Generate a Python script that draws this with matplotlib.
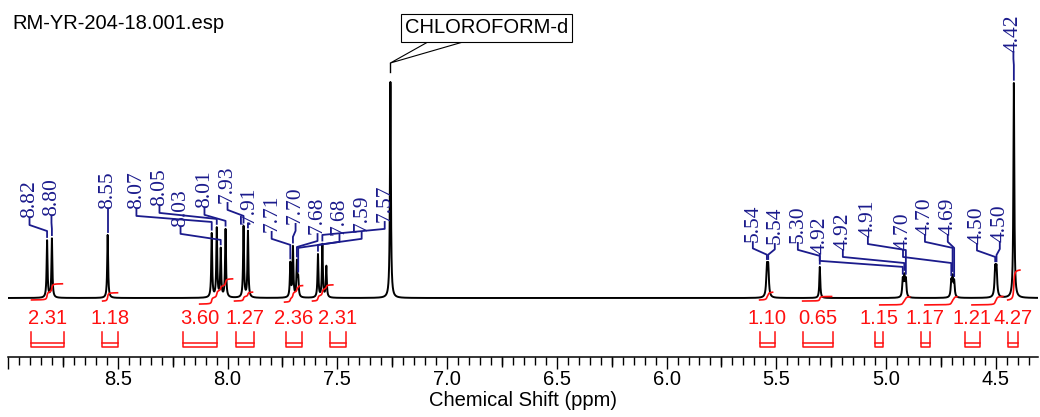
import numpy as np
import matplotlib.pyplot as plt
from matplotlib.ticker import MultipleLocator

plt.rcParams['font.family'] = 'Liberation Sans'

# peak list: shift (ppm), apex height (CHCl3 = 100), half width at half height (ppm)
peak_ppm = [8.822, 8.800, 8.546, 8.072, 8.049, 8.031, 8.009, 7.927, 7.907,
            7.714, 7.702, 7.684, 7.678, 7.588, 7.568, 7.550, 7.258,
            5.543, 5.537, 5.302, 4.924, 4.917, 4.910, 4.703, 4.697, 4.690,
            4.503, 4.497, 4.418]
peak_height = [26.4, 27.3, 29.2, 29.6, 31.9, 22.2, 31.5, 32.9, 30.6,
               15.7, 23.1, 16.0, 8.0, 19.9, 24.5, 14.4, 100.0,
               13.2, 13.2, 14.4, 8.0, 9.0, 8.0, 7.0, 8.5, 7.0,
               12.3, 12.3, 99.5]
peak_hwhm = [0.0025] * 17 + [0.0035, 0.0035, 0.0025] + [0.003] * 6 + [0.0035, 0.0035, 0.0025]
# peaks that carry a shift label (solvent and the 7.55 line are unlabelled)
labelled = [True] * 15 + [False, False] + [True] * 12

# label placement: x (ppm) and bottom of the rotated text (intensity units)
label_x = [8.902, 8.802, 8.546, 8.415, 8.310, 8.214, 8.105, 8.000, 7.900,
           7.799, 7.690, 7.590, 7.490, 7.389, 7.284,
           5.607, 5.507, 5.402, 5.302, 5.197, 5.083, 4.923, 4.823, 4.719,
           4.586, 4.482, 4.420]
label_bottom = [37.0, 38.0, 41.2, 41.2, 42.6, 32.9, 41.7, 44.0, 34.3,
                30.6, 34.3, 29.6, 29.2, 30.6, 35.2,
                25.9, 25.0, 25.5, 20.4, 22.2, 28.2, 22.2, 29.2, 29.2,
                25.0, 25.9, 113.9]

# integrals
int_values = [2.31, 1.18, 3.60, 1.27, 2.36, 2.31, 1.10, 0.65, 1.15, 1.17, 1.21, 4.27]
int_curve = [(8.893, 8.752), (8.569, 8.501), (8.127, 7.977), (7.968, 7.886),
             (7.740, 7.658), (7.613, 7.520), (5.576, 5.517), (5.380, 5.248),
             (5.029, 4.892), (4.823, 4.677), (4.609, 4.468), (4.446, 4.390)]
int_start = [-0.9, -1.4, -2.8, -1.4, -1.9, -1.4, -0.9, -1.4, -3.2, -3.2, -3.2, -0.9]
int_bracket = [(8.893, 8.747), (8.570, 8.500), (8.205, 8.050), (7.963, 7.880),
               (7.735, 7.660), (7.535, 7.460), (5.575, 5.507), (5.380, 5.243),
               (5.051, 5.015), (4.842, 4.801), (4.642, 4.573), (4.446, 4.400)]

navy = '#1b1b8c'
red = '#ff1010'

# build spectrum as a sum of lorentzians
grid = np.union1d(np.arange(4.30, 9.0001, 0.0004), peak_ppm)[::-1]
spec = np.zeros_like(grid)
for p, h, w in zip(peak_ppm, peak_height, peak_hwhm):
    spec += h * w**2 / ((grid - p)**2 + w**2)

fig = plt.figure(figsize=(10.4, 4.17), dpi=100)
ax = fig.add_axes([8 / 1040, 60 / 417, 1030 / 1040, 357 / 417])
ax.plot(grid, spec, color='black', lw=1.4, zorder=3)
ax.set_xlim(9.0, 4.308)
ax.set_ylim(-27.31, 137.96)

# peak labels with leader lines
lab_ppm = [p for p, l in zip(peak_ppm, labelled) if l]
for p, lx, lb in zip(lab_ppm, label_x, label_bottom):
    ax.text(lx, lb, f'{p:.2f}', rotation=90, ha='center', va='bottom',
            color=navy, fontsize=15.5, family='Liberation Serif')
    i = np.argmin(np.abs(grid - p))
    end = spec[i] + 1.5
    k1, k2 = lb - 3.2, lb - 6.0
    if k2 < end + 2:
        k2 = end + 2
        k1 = (lb + k2) / 2
    ax.plot([lx, lx, p, p], [lb, k1, k2, end], color=navy, lw=1.3, zorder=4)

# integral curves, values and brackets
for v, (a, b), y0, (ba, bb) in zip(int_values, int_curve, int_start, int_bracket):
    m = (grid <= a) & (grid >= b)
    cum = np.cumsum(spec[m])
    cum = (cum - cum[0]) / (cum[-1] - cum[0])
    ax.plot(grid[m], y0 + v * 3.24 * cum, color=red, lw=1.2, zorder=5)
    ax.text((ba + bb) / 2, -9.26, f'{v:.2f}', ha='center', va='center',
            color=red, fontsize=14.5)
    ax.plot([ba, ba, bb, bb], [-15.7, -22.7, -22.7, -15.7], color=red, lw=1.1)
    ax.plot([ba, bb], [-20.8, -20.8], color=red, lw=1.1)

# solvent callout
sol = peak_ppm[16]
top = peak_height[16]
ax.text(6.82, 125.0, 'CHLOROFORM-d', ha='center', va='center', fontsize=14.5,
        zorder=6, bbox=dict(boxstyle='square,pad=0.2', fc='white', ec='black', lw=0.8))
ax.plot([7.079, sol, 6.911], [119.0, top + 8.8, 119.0], color='black', lw=0.8, zorder=5)
ax.plot([sol, sol], [top + 8.8, top + 4.6], color='black', lw=1.0)

# axis styling
for s in ['left', 'right', 'top']:
    ax.spines[s].set_visible(False)
ax.spines['bottom'].set_linewidth(1.1)
ax.set_yticks([])
majors = np.arange(9.0, 4.3, -0.5)
ax.set_xticks(majors, labels=['' if m > 8.9 else f'{m:.1f}' for m in majors])
ax.xaxis.set_minor_locator(MultipleLocator(0.05))
ax.tick_params(which='major', length=8.6, width=1.0, pad=0.5, labelsize=14.5)
ax.tick_params(which='minor', length=5.5, width=1.0)
sec = ax.secondary_xaxis('bottom')
mids = np.arange(8.75, 4.3, -0.5)
sec.set_xticks(mids, labels=[''] * len(mids))
sec.tick_params(length=7.2, width=1.0)
sec.spines['bottom'].set_visible(False)
ax.set_xlabel('Chemical Shift (ppm)', fontsize=14.5, labelpad=1.5)

fig.text(12 / 1040, 1 - 29.3 / 417, 'RM-YR-204-18.001.esp', fontsize=14.5, va='baseline')

fig.savefig('out.png', dpi=100)
